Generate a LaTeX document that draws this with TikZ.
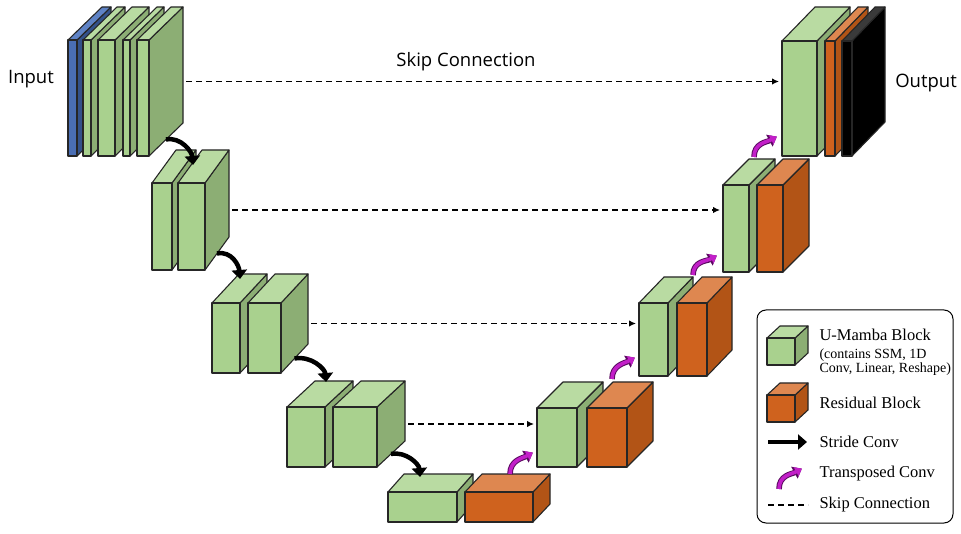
\documentclass[tikz,border=0pt]{standalone}
\usepackage{fontspec}
\setmainfont{Liberation Serif}
\newfontfamily\labelfont{Open Sans}
\usetikzlibrary{arrows.meta, calc}

\definecolor{gfrontc}{HTML}{A9D18E}
\definecolor{gtopc}{HTML}{B9DBA2}
\definecolor{gsidec}{HTML}{8CAE74}
\definecolor{ofrontc}{HTML}{CF621E}
\definecolor{otopc}{HTML}{DE8750}
\definecolor{osidec}{HTML}{B25416}
\definecolor{bfrontc}{HTML}{4A6EB4}
\definecolor{btopc}{HTML}{5F83C6}
\definecolor{bsidec}{HTML}{33518A}
\definecolor{ktopc}{HTML}{3A3A3A}
\definecolor{tcfillc}{HTML}{C21FC8}
\definecolor{tcedgec}{HTML}{5A0A60}

% cuboid: name, x, y (front top left), width, height, depth x, depth y, colour prefix
\newcommand{\cuboid}[8]{%
  \coordinate (#1-a) at (#2,#3);
  \coordinate (#1-c) at (#2+#4,#3+#5);
  \filldraw[#8side] (#2+#4,#3) -- ++(#6,-#7) -- ++(0,#5) -- (#2+#4,#3+#5) -- cycle;
  \filldraw[#8top] (#2,#3) -- ++(#6,-#7) -- ++(#4,0) -- (#2+#4,#3) -- cycle;
  \filldraw[#8front] (#2,#3) rectangle ++(#4,#5);
  \coordinate (#1-w) at (#2,#3+#5/2);
  \coordinate (#1-e) at (#2+#4+#6,#3+#5/2-#7/2);
  \coordinate (#1-sb) at (#2+#4+#6/2,#3+#5-#7/2);
}

\begin{document}
\begin{tikzpicture}[x=1pt, y=-1pt, line join=round,
    edge/.style={draw=black!85, line width=1.1pt},
    gfront/.style={edge, fill=gfrontc}, gtop/.style={edge, fill=gtopc}, gside/.style={edge, fill=gsidec},
    ofront/.style={edge, fill=ofrontc}, otop/.style={edge, fill=otopc}, oside/.style={edge, fill=osidec},
    bfront/.style={edge, fill=bfrontc}, btop/.style={edge, fill=btopc}, bside/.style={edge, fill=bsidec},
    kfront/.style={edge, fill=black}, ktop/.style={edge, fill=ktopc}, kside/.style={edge, fill=black},
    skip/.style={line width=1.4pt, dash pattern=on 6pt off 4pt, shorten <=3pt, shorten >=3pt, -{Latex[length=7pt,width=6.5pt]}},
    stride/.style={line width=4.5pt, -{Triangle[width=15pt,length=9pt]}},
    tconv/.style={draw=tcfillc, line width=3.6pt, shorten >=1.3pt, shorten <=1pt, -{Triangle[width=10pt,length=6.5pt]},
        preaction={draw=tcedgec, line width=5.6pt, -{Triangle[width=13pt,length=8.5pt]}}},
    lbl/.style={font=\labelfont\fontsize{18.5}{22}\selectfont},
    key/.style={anchor=west, font=\fontsize{16.5}{19}\selectfont}]

    \fill[white] (0,0) rectangle (961,534);
    \useasboundingbox (0,0) rectangle (961,534);

    % Encoder level 1 (input + U-Mamba blocks)
    \cuboid{in}{68}{40}{9}{116}{34}{33}{b}
    \cuboid{enc1a}{83}{40}{8}{116}{34}{33}{g}
    \cuboid{enc1b}{98}{40}{17}{116}{34}{33}{g}
    \cuboid{enc1c}{123}{40}{7}{116}{34}{33}{g}
    \cuboid{enc1d}{137}{40}{12}{116}{34}{33}{g}

    % Encoder level 2
    \cuboid{enc2a}{152}{183}{20}{87}{24}{33}{g}
    \cuboid{enc2b}{178}{183}{27}{87}{24}{33}{g}

    % Encoder level 3
    \cuboid{enc3a}{212}{303}{28}{70}{27}{29}{g}
    \cuboid{enc3b}{248}{303}{33}{70}{27}{29}{g}

    % Encoder level 4
    \cuboid{enc4a}{287}{407}{38}{60}{28}{26}{g}
    \cuboid{enc4b}{333}{407}{44}{60}{28}{26}{g}

    % Bottleneck
    \cuboid{bnga}{388}{492}{69}{30}{16}{18}{g}
    \cuboid{bngb}{465}{492}{68}{30}{17}{18}{o}

    % Decoder level 4
    \cuboid{dec4g}{537}{408}{40}{59}{26}{26}{g}
    \cuboid{dec4o}{587}{408}{40}{59}{26}{26}{o}

    % Decoder level 3
    \cuboid{dec3g}{639}{303}{29}{73}{25}{26}{g}
    \cuboid{dec3o}{677}{303}{30}{73}{25}{26}{o}

    % Decoder level 2
    \cuboid{dec2g}{723}{185}{26}{87}{26}{26}{g}
    \cuboid{dec2o}{757}{185}{26}{87}{26}{26}{o}

    % Decoder level 1 (output)
    \cuboid{dec1g}{782}{41}{35}{115}{33}{34}{g}
    \cuboid{dec1o}{825}{41}{10}{115}{33}{34}{o}
    \cuboid{out}{842}{41}{10}{115}{33}{34}{k}

    % Labels
    \node[lbl] (input) at (31,79) {Input};
    \node[lbl] (output) at (926,83) {Output};
    \node[lbl] (skiplbl) at (466,62) {Skip Connection};

    % Skip connections
    \draw[skip] (enc1d-e) -- (enc1d-e -| dec1g-w);
    \draw[skip] (enc2b-e) -- (enc2b-e -| dec2g-w);
    \draw[skip] (enc3b-e) -- (enc3b-e -| dec3g-w);
    \draw[skip] (enc4b-e) -- (enc4b-e -| dec4g-w);

    % Stride convs (down)
    \coordinate (dn1) at (193,165);
    \coordinate (dn2) at (240,279);
    \coordinate (dn3) at (326,382);
    \coordinate (dn4) at (420,477);
    \draw[stride] (enc1d-sb) .. controls +(15,-3) and +(-1,-13) .. (dn1);
    \draw[stride] (enc2b-sb) .. controls +(15,-3) and +(-1,-13) .. (dn2);
    \draw[stride] (enc3b-sb) .. controls +(17,-3) and +(-1,-13) .. (dn3);
    \draw[stride] (enc4b-sb) .. controls +(15,-3) and +(-1,-13) .. (dn4);

    % Transposed convs (up)
    \coordinate (up1a) at (510,475);  \coordinate (up1b) at (534,452);
    \coordinate (up2a) at (612,380);  \coordinate (up2b) at (636,357);
    \coordinate (up3a) at (693,276);  \coordinate (up3b) at (718,255);
    \coordinate (up4a) at (754,158);  \coordinate (up4b) at (778,136);
    \draw[tconv] (up1a) .. controls +(0,-15) and +(-11,6) .. (up1b);
    \draw[tconv] (up2a) .. controls +(0,-15) and +(-11,6) .. (up2b);
    \draw[tconv] (up3a) .. controls +(0,-15) and +(-11,6) .. (up3b);
    \draw[tconv] (up4a) .. controls +(0,-15) and +(-11,6) .. (up4b);

    % Legend
    \node[draw, line width=1pt, rounded corners=9pt, minimum width=196pt, minimum height=213pt] (legend) at (855,416.5) {};
    \cuboid{keyg}{767}{338}{28}{27}{13}{12}{g}
    \cuboid{keyo}{767}{395}{28}{27}{13}{12}{o}
    \node[key] (keymamba) at (816,335) {U-Mamba Block};
    \node[key, align=left, font=\fontsize{14}{14.5}\selectfont] (keynote) at (816,362) {(contains SSM, 1D\\Conv, Linear, Reshape)};
    \node[key] (keyres) at (816,403) {Residual Block};
    \coordinate (keysa) at (768,442);  \coordinate (keysb) at (807,442);
    \draw[stride] (keysa) -- (keysb);
    \node[key] (keystride) at (816,442) {Stride Conv};
    \coordinate (keyta) at (779,490);  \coordinate (keytb) at (803,468);
    \draw[tconv] (keyta) .. controls +(0,-15) and +(-11,6) .. (keytb);
    \node[key] (keytconv) at (816,474) {Transposed Conv};
    \coordinate (keyda) at (768,505);  \coordinate (keydb) at (808,505);
    \draw[skip, -, shorten <=0pt, shorten >=0pt] (keyda) -- (keydb);
    \node[key] (keyskip) at (816,505) {Skip Connection};
\end{tikzpicture}
\end{document}
